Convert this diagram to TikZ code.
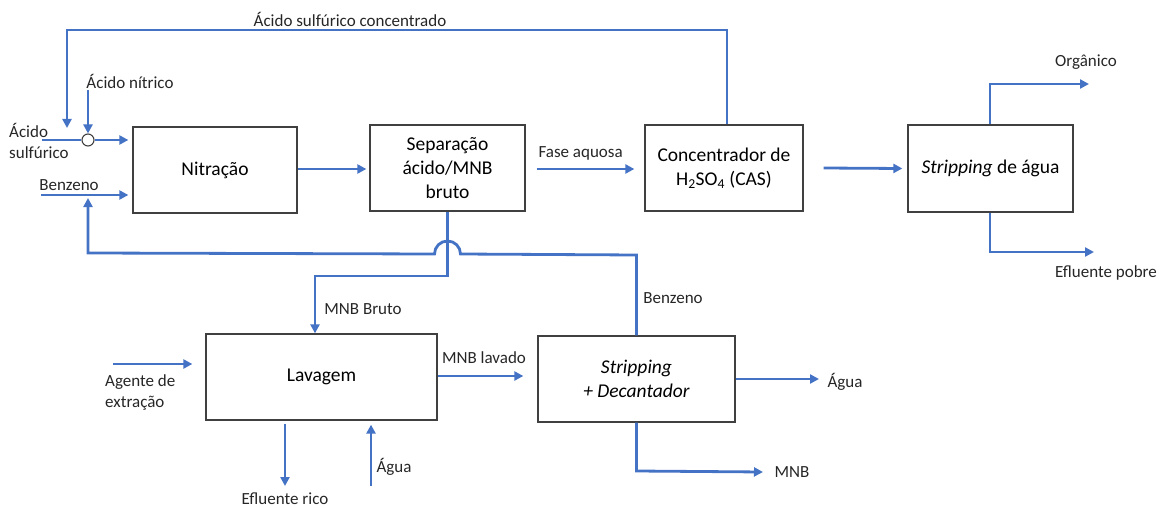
\documentclass[tikz,border=0pt]{standalone}
\usepackage{fontspec}
\setmainfont{Carlito}
\usetikzlibrary{arrows.meta,calc}
\definecolor{flowblue}{HTML}{4472C4}
\definecolor{boxgray}{HTML}{404040}
\tikzset{
  box/.style={draw=boxgray, line width=1.3pt, fill=white, align=center, font=\fontsize{19.5}{24}\selectfont, inner sep=2pt},
  flow/.style={draw=flowblue, line width=2.8pt, -{Triangle[length=9pt,width=9pt]}},
  flowline/.style={draw=flowblue, line width=2.8pt},
  lbl/.style={font=\fontsize{17}{21}\selectfont, inner sep=0pt, text=black!85},
}
\begin{document}
\begin{tikzpicture}[x=1pt,y=-1pt]
\useasboundingbox (0,0) rectangle (1165,508);
% boxes
\node[box, minimum width=164pt, minimum height=86pt] (nit) at (215,170) {Nitração};
\node[box, minimum width=155pt, minimum height=86pt] (sep) at (447.5,168) {Separação\\ácido/MNB\\bruto};
\node[box, minimum width=158pt, minimum height=86pt] (cas) at (724,168) {Concentrador de\\H\textsubscript{2}SO\textsubscript{4} (CAS)};
\node[box, minimum width=165pt, minimum height=87pt] (swa) at (990.5,168.5) {\textit{Stripping} de água};
\node[box, minimum width=231pt, minimum height=86pt] (lav) at (321.5,377) {Lavagem};
\node[box, minimum width=197pt, minimum height=86pt] (sdec) at (636.5,379) {\textit{Stripping}\\\textit{+ Decantador}};
\node[draw=boxgray, fill=white, circle, line width=1.1pt, minimum size=12pt, inner sep=0pt] (mix) at (88,140) {};
% free-end coordinates
\coordinate (topL) at (67,128);
\coordinate (hno3) at (88,90);
\coordinate (h2so4) at (42,140);
\coordinate (benz) at (41,195);
\coordinate (benzret) at (88,198);
\coordinate (ag) at (113,364);
\coordinate (efr) at (285,486);
\coordinate (agin) at (371,486);
\coordinate (aguaout) at (819,379);
\coordinate (mnbout) at (763,472);
\coordinate (org) at (1089,84);
\coordinate (efp) at (1094,252);
\coordinate (x315) at (315,0);
\coordinate (x285) at (285,0);
\coordinate (x371) at (371,0);
\coordinate (x990) at (990,0);
% connectors
\draw[flow] ($(cas.north)+(3,0)$) -- (727,30) -- (67,30) -- (topL);
\draw[flow] (hno3) -- (mix.north);
\draw[flowline] (h2so4) -- (mix.west);
\draw[flow] (mix.east) -- ($(nit.west |- mix.east)+(-4,0)$);
\draw[flow] (benz) -- ($(nit.west |- benz)+(-4,0)$);
\draw[flow] ($(nit.east)+(0,-1)$) -- ($(sep.west)+(-3,1)$);
\draw[flow] ($(sep.east)+(11,1)$) -- ($(cas.west)+(-10,1)$) node[pos=0.45, above=7pt, lbl] {Fase aquosa};
\draw[flow] ($(cas.east)+(20,0)$) -- ($(swa.west)+(-5,0)$);
\draw[flow] (sep.south) -- (447.5,276) -- (315,276) -- (lav.north -| x315);
\draw[flow] (sdec.north) -- (636.5,255) -- (460.5,254) arc (0:-180:13) -- (88,253) -- (benzret);
\draw[flow] (swa.north -| x990) -- (990,84) -- (org);
\draw[flow] (swa.south -| x990) -- (990,252) -- (efp);
\draw[flow] (ag) -- ($(lav.west |- ag)+(-13,0)$);
\draw[flow] ($(lav.south -| x285)+(0,3)$) -- (efr);
\draw[flow] (agin) -- ($(lav.south -| x371)+(0,4)$);
\draw[flow] (lav.east |- 0,376) -- ($(sdec.west |- 0,376)+(-14,0)$);
\draw[flow] (sdec.east |- 0,379) -- (aguaout);
\draw[flow] (sdec.south) -- (636.5,471) -- (mnbout);
% labels
\node[lbl] (l1) at (350,19) {Ácido sulfúrico concentrado};
\node[lbl] (l2) at (130,81) {Ácido nítrico};
\node[lbl, anchor=west, align=left] (l3) at (9,141) {Ácido\\sulfúrico};
\node[lbl] (l4) at (69,185) {Benzeno};
\node[lbl] (l5) at (1086,62) {Orgânico};
\node[lbl] (l6) at (1106,273) {Efluente pobre};
\node[lbl] (l7) at (363,309) {MNB Bruto};
\node[lbl] (l8) at (673,298) {Benzeno};
\node[lbl, anchor=west, align=left] (l9) at (105,393) {Agente de\\extração};
\node[lbl] (l10) at (484,358) {MNB lavado};
\node[lbl] (l11) at (845,382) {Água};
\node[lbl] (l12) at (285,499) {Efluente rico};
\node[lbl] (l13) at (394,467) {Água};
\node[lbl] (l14) at (792,472) {MNB};
\end{tikzpicture}
\end{document}
